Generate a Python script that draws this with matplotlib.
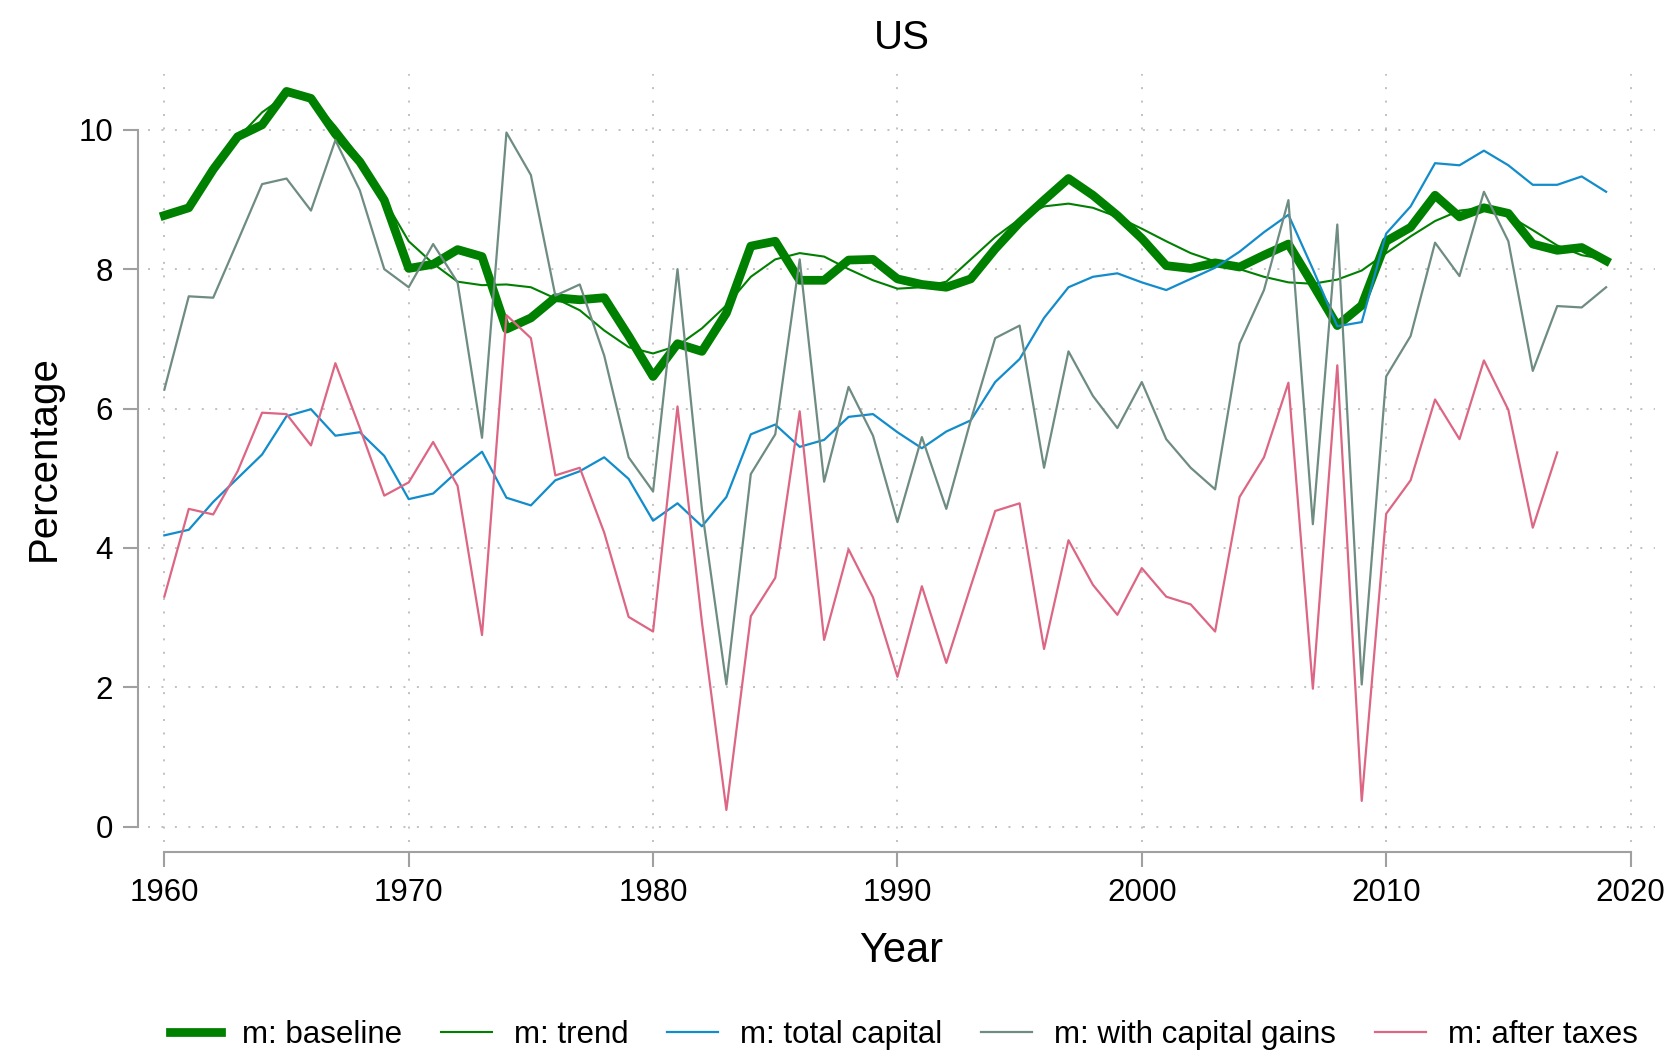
import numpy as np
import matplotlib
matplotlib.use("Agg")
import matplotlib.pyplot as plt

plt.rcParams['font.family'] = ['Liberation Sans', 'DejaVu Sans']

years = np.arange(1960, 2020)

baseline = [8.77, 8.88, 9.43, 9.90, 10.07, 10.55, 10.45, 9.94, 9.54, 8.99,
            8.01, 8.07, 8.28, 8.18, 7.14, 7.30, 7.59, 7.56, 7.59, 7.04,
            6.46, 6.93, 6.82, 7.37, 8.33, 8.40, 7.84, 7.84, 8.13, 8.14,
            7.86, 7.78, 7.74, 7.86, 8.29, 8.67, 8.99, 9.30, 9.06, 8.77,
            8.44, 8.05, 8.01, 8.09, 8.03, 8.20, 8.36, 7.78, 7.19, 7.48,
            8.40, 8.60, 9.06, 8.75, 8.88, 8.80, 8.36, 8.27, 8.31, 8.12]

trend = [8.75, 8.90, 9.40, 9.88, 10.25, 10.50, 10.45, 10.05, 9.60, 9.00,
         8.40, 8.08, 7.82, 7.77, 7.78, 7.74, 7.58, 7.41, 7.12, 6.88,
         6.79, 6.90, 7.15, 7.48, 7.89, 8.14, 8.23, 8.18, 8.00, 7.84,
         7.72, 7.74, 7.82, 8.14, 8.46, 8.72, 8.90, 8.94, 8.88, 8.75,
         8.58, 8.40, 8.23, 8.11, 8.00, 7.89, 7.81, 7.79, 7.85, 7.98,
         8.23, 8.47, 8.69, 8.84, 8.88, 8.77, 8.56, 8.34, 8.20, 8.14]

total_capital = [4.18, 4.26, 4.66, 5.00, 5.34, 5.89, 5.99, 5.61, 5.66, 5.32,
                 4.70, 4.78, 5.10, 5.38, 4.72, 4.61, 4.97, 5.10, 5.30, 4.99,
                 4.39, 4.64, 4.31, 4.73, 5.63, 5.77, 5.45, 5.55, 5.88, 5.92,
                 5.66, 5.43, 5.67, 5.83, 6.38, 6.71, 7.30, 7.74, 7.89, 7.94,
                 7.81, 7.70, 7.86, 8.02, 8.25, 8.53, 8.78, 8.00, 7.18, 7.24,
                 8.51, 8.90, 9.52, 9.49, 9.70, 9.49, 9.21, 9.21, 9.33, 9.11]

cap_gains = [6.27, 7.61, 7.59, 8.40, 9.22, 9.30, 8.84, 9.85, 9.13, 8.00,
             7.74, 8.36, 7.81, 5.58, 9.96, 9.35, 7.62, 7.78, 6.76, 5.30,
             4.81, 8.00, 4.55, 2.04, 5.06, 5.63, 8.14, 4.95, 6.31, 5.61,
             4.37, 5.59, 4.56, 5.83, 7.01, 7.19, 5.15, 6.82, 6.18, 5.72,
             6.38, 5.56, 5.15, 4.84, 6.93, 7.70, 8.99, 4.34, 8.64, 2.04,
             6.46, 7.04, 8.38, 7.90, 9.11, 8.40, 6.54, 7.47, 7.45, 7.74]

after_taxes = [3.30, 4.56, 4.48, 5.10, 5.94, 5.92, 5.47, 6.65, 5.72, 4.75,
               4.94, 5.52, 4.89, 2.75, 7.34, 7.01, 5.04, 5.15, 4.22, 3.01,
               2.80, 6.03, 2.93, 0.24, 3.02, 3.57, 5.96, 2.68, 3.98, 3.29,
               2.15, 3.45, 2.35, 3.45, 4.53, 4.64, 2.55, 4.11, 3.47, 3.04,
               3.71, 3.30, 3.19, 2.80, 4.73, 5.30, 6.37, 1.98, 6.62, 0.37,
               4.49, 4.97, 6.13, 5.56, 6.69, 5.98, 4.29, 5.37, np.nan, np.nan]

GREEN = '#008000'
BLUE = '#128ccb'
GRAY = '#6e8c82'
PINK = '#dc6684'
AXIS = '#a0a0a0'

fig = plt.figure(figsize=(16.7, 10.57), dpi=100)
ax = fig.add_axes([0.0886, 0.2034, 0.9024, 0.7266])

ax.plot(years, baseline, color=GREEN, lw=6.3, solid_joinstyle='round', label='m: baseline')
ax.plot(years, trend, color=GREEN, lw=1.5, label='m: trend')
ax.plot(years, total_capital, color=BLUE, lw=1.6, label='m: total capital')
ax.plot(years, cap_gains, color=GRAY, lw=1.6, label='m: with capital gains')
ax.plot(years, after_taxes, color=PINK, lw=1.6, label='m: after taxes')

ax.set_xlim(1959.33, 2021.0)
ax.set_ylim(-0.22, 10.80)
ax.set_xticks(np.arange(1960, 2021, 10))
ax.set_yticks(np.arange(0, 11, 2))

ax.grid(True, color='#b0b0b0', lw=1.1, linestyle=(0, (1.3, 7.5)))
ax.set_axisbelow(True)

for side in ['top', 'right']:
    ax.spines[side].set_visible(False)
for side in ['left', 'bottom']:
    ax.spines[side].set_position(('outward', 7.2))
    ax.spines[side].set_color(AXIS)
    ax.spines[side].set_linewidth(1.5)
ax.spines['left'].set_bounds(0, 10)
ax.spines['bottom'].set_bounds(1960, 2020)

ax.tick_params(axis='both', length=11, width=1.5, color=AXIS, labelsize=22.5)
ax.tick_params(axis='y', pad=7)
ax.tick_params(axis='x', pad=8)

ax.set_xlabel('Year', fontsize=30, labelpad=16)
ax.set_ylabel('Percentage', fontsize=29, labelpad=11)
ax.set_title('US', fontsize=29, pad=18)

handles, labels = ax.get_legend_handles_labels()
fig.legend(handles, labels, loc='center', bbox_to_anchor=(0.541, 0.0208),
           ncol=5, frameon=False, fontsize=22.5, handlelength=1.63,
           handletextpad=0.70, columnspacing=1.24)

fig.savefig('out.png', dpi=100)
